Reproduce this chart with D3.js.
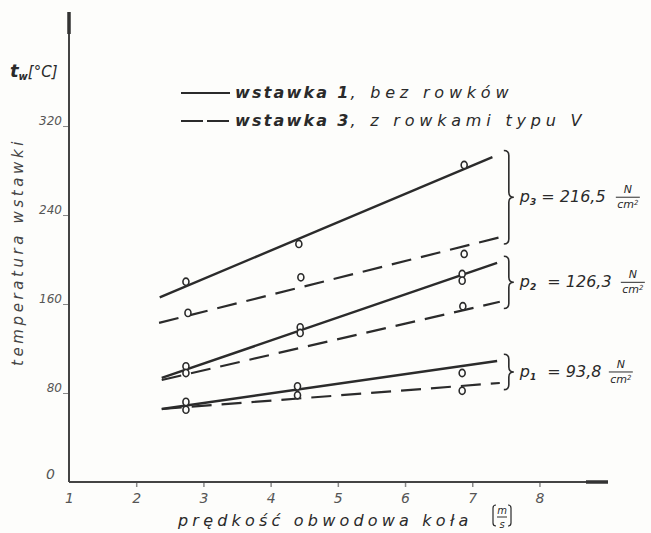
<!DOCTYPE html>
<meta charset="utf-8">
<head>
    <script src="https://d3js.org/d3.v7.min.js"></script>
    <style>
        body { margin: 0; background: #fdfdfb; }
        text { font-family: "DejaVu Sans", sans-serif; font-style: italic; fill: #2a2a2a; }
        .tick text { fill: #555; }
    </style>
</head>
<body>
<div id="chart"></div>
<script>
    // tick values
    var xTicks = [1, 2, 3, 4, 5, 6, 7, 8];
    var yTicks = [0, 80, 160, 240, 320];

    // fitted lines: [start speed, start temp, end speed, end temp]
    var p3Solid = [2.35, 166, 7.30, 292];
    var p3Dashed = [2.34, 143, 7.41, 220];
    var p2Solid = [2.38, 93.5, 7.37, 197];
    var p2Dashed = [2.38, 91.7, 7.41, 162];
    var p1Solid = [2.38, 65.6, 7.37, 108.8];
    var p1Dashed = [2.38, 65.6, 7.41, 89];

    // measured points [speed, temp]
    var p3SolidPts = [[2.74, 180], [4.42, 214], [6.88, 285]];
    var p3DashedPts = [[2.77, 152], [4.45, 184], [6.88, 205]];
    var p2SolidPts = [[2.74, 104], [4.44, 139], [6.85, 187]];
    var p2DashedPts = [[2.74, 98], [4.44, 134], [6.85, 181], [6.86, 158]];
    var p1SolidPts = [[2.74, 72], [4.40, 86], [6.85, 98]];
    var p1DashedPts = [[2.74, 65], [4.40, 78], [6.85, 82]];

    var groups = [
        {idx: "3", value: "216,5", solid: p3Solid, dashed: p3Dashed, pts: p3SolidPts.concat(p3DashedPts)},
        {idx: "2", value: "126,3", solid: p2Solid, dashed: p2Dashed, pts: p2SolidPts.concat(p2DashedPts)},
        {idx: "1", value: "93,8", solid: p1Solid, dashed: p1Dashed, pts: p1SolidPts.concat(p1DashedPts)}
    ];

    var legendLabels = ["wstawka 1", "wstawka 3"];
    var legendRest = [", bez rowków", ", z rowkami typu V"];

    var margin = {top: 12, left: 69},
        width = 651, height = 533,
        plotW = 539, plotH = 470;

    var svg = d3.select("#chart").append("svg")
        .attr("width", width)
        .attr("height", height);

    var g = svg.append("g")
        .attr("transform", "translate(" + margin.left + "," + margin.top + ")");

    var x = d3.scaleLinear().domain([1, 9.02]).range([0, plotW]);
    var y = d3.scaleLinear().domain([0, 422.5]).range([plotH, 0]);

    var ink = "#2b2b2b";

    // x axis
    var xAxis = g.append("g")
        .attr("transform", "translate(0," + plotH + ")")
        .call(d3.axisBottom(x).tickValues(xTicks).tickSize(5).tickPadding(6).tickFormat(d3.format("d")));
    xAxis.select(".domain").remove();
    xAxis.selectAll(".tick line").attr("stroke", "#888").attr("stroke-width", 1.5);
    xAxis.selectAll(".tick text").style("font-size", "14px");
    xAxis.selectAll(".tick").filter(function(d) { return d === 1; }).select("line").remove();

    g.append("line")
        .attr("x1", 0).attr("x2", plotW)
        .attr("y1", plotH).attr("y2", plotH)
        .attr("stroke", "#444").attr("stroke-width", 2);
    g.append("line")
        .attr("x1", plotW - 22).attr("x2", plotW)
        .attr("y1", plotH).attr("y2", plotH)
        .attr("stroke", "#333").attr("stroke-width", 3.5);

    // y axis
    var yAxis = g.append("g")
        .call(d3.axisLeft(y).tickValues(yTicks).tickSize(6).tickPadding(1));
    yAxis.select(".domain").remove();
    yAxis.selectAll(".tick line").attr("stroke", "#888").attr("stroke-width", 1);
    yAxis.selectAll(".tick text")
        .attr("dy", "-0.15em")
        .style("font-size", "12px");
    yAxis.selectAll(".tick").filter(function(d) { return d === 0; }).select("line").remove();
    yAxis.selectAll(".tick").filter(function(d) { return d === 0; }).select("text")
        .attr("x", -14).attr("dy", "-0.25em").style("font-size", "14px");

    g.append("line")
        .attr("x1", 0).attr("x2", 0)
        .attr("y1", plotH).attr("y2", 0)
        .attr("stroke", "#444").attr("stroke-width", 2);
    g.append("line")
        .attr("x1", 0).attr("x2", 0)
        .attr("y1", 0).attr("y2", 22)
        .attr("stroke", "#333").attr("stroke-width", 3.5);

    // axis titles
    var tw = svg.append("text")
        .attr("x", 10).attr("y", 77)
        .style("font-size", "15px");
    tw.append("tspan").text("t").style("font-weight", "bold").style("font-size", "18px");
    tw.append("tspan").text("w").attr("dy", 3).style("font-size", "10px").style("font-weight", "bold");
    tw.append("tspan").text("[°C]").attr("dy", -3);

    svg.append("text")
        .attr("transform", "translate(23,252) rotate(-90)")
        .attr("text-anchor", "middle")
        .style("font-size", "15px")
        .style("letter-spacing", "3.6px")
        .style("fill", "#444")
        .text("temperatura  wstawki");

    svg.append("text")
        .attr("x", 178).attr("y", 526)
        .style("font-size", "16px")
        .style("letter-spacing", "4.2px")
        .text("prędkość obwodowa koła");

    // unit fraction [m/s]
    var ux = 502;
    svg.append("text").attr("x", ux).attr("y", 514).attr("text-anchor", "middle")
        .style("font-size", "10px").text("m");
    svg.append("text").attr("x", ux).attr("y", 528).attr("text-anchor", "middle")
        .style("font-size", "10px").text("s");
    svg.append("line").attr("x1", ux - 5).attr("x2", ux + 5).attr("y1", 517).attr("y2", 517)
        .attr("stroke", ink).attr("stroke-width", 1);
    svg.append("path").attr("d", "M" + (ux - 6) + ",505 q-3,0 -3,3 v15 q0,3 3,3")
        .attr("fill", "none").attr("stroke", ink).attr("stroke-width", 1.2);
    svg.append("path").attr("d", "M" + (ux + 6) + ",505 q3,0 3,3 v15 q0,3 -3,3")
        .attr("fill", "none").attr("stroke", ink).attr("stroke-width", 1.2);

    // legend
    var legend = svg.append("g");
    legendLabels.forEach(function(lbl, i) {
        var ly = 93 + i * 28;
        legend.append("line")
            .attr("x1", 181).attr("x2", 230)
            .attr("y1", ly).attr("y2", ly)
            .attr("stroke", ink).attr("stroke-width", 2)
            .attr("stroke-dasharray", i === 0 ? null : "22,4");
        var t = legend.append("text")
            .attr("x", 235).attr("y", ly + 5)
            .style("font-size", "16px")
            .style("letter-spacing", "2.2px");
        t.append("tspan").text(lbl).style("font-weight", "bold");
        t.append("tspan").text(legendRest[i]).style("letter-spacing", i === 0 ? "4.8px" : "4.8px");
    });

    // fitted lines
    var line = d3.line().x(function(d) { return x(d[0]); }).y(function(d) { return y(d[1]); });

    groups.forEach(function(gr) {
        g.append("path")
            .datum([[gr.solid[0], gr.solid[1]], [gr.solid[2], gr.solid[3]]])
            .attr("d", line)
            .attr("fill", "none").attr("stroke", ink).attr("stroke-width", 2.4);
        g.append("path")
            .datum([[gr.dashed[0], gr.dashed[1]], [gr.dashed[2], gr.dashed[3]]])
            .attr("d", line)
            .attr("fill", "none").attr("stroke", ink).attr("stroke-width", 2.2)
            .attr("stroke-dasharray", "20,10");

        g.selectAll(null)
            .data(gr.pts)
            .enter().append("ellipse")
            .attr("cx", function(d) { return x(d[0]); })
            .attr("cy", function(d) { return y(d[1]); })
            .attr("rx", 3).attr("ry", 3.6)
            .attr("fill", "#fdfdfb")
            .attr("stroke", ink).attr("stroke-width", 1.6);

        // brace
        var top = y(Math.max(gr.solid[3], gr.dashed[3]) + 6),
            bot = y(Math.min(gr.solid[3], gr.dashed[3]) - 6),
            mid = (top + bot) / 2,
            bx = x(7.47);
        g.append("path")
            .attr("d", "M" + bx + "," + top + " q5,0 5,5 V" + (mid - 5) + " q0,5 5,5 q-5,0 -5,5 V" + (bot - 5) + " q0,5 -5,5")
            .attr("fill", "none").attr("stroke", ink).attr("stroke-width", 1.6);

        // pressure label
        var lx = bx + 16 + margin.left, ly = mid + margin.top + 5;
        var pl = svg.append("text").attr("x", lx).attr("y", ly).style("font-size", "16px");
        pl.append("tspan").text("p");
        pl.append("tspan").text(gr.idx).attr("dy", 3).style("font-size", "9px").style("font-weight", "bold");
        pl.append("tspan").text(" = " + gr.value).attr("dy", -3).attr("dx", gr.idx === "3" ? 0 : 6);
        var fx = lx + (gr.idx === "3" ? 108 : gr.idx === "2" ? 113 : 101);
        svg.append("text").attr("x", fx).attr("y", ly - 9).attr("text-anchor", "middle")
            .style("font-size", "11px").text("N");
        svg.append("line").attr("x1", fx - 12).attr("x2", fx + 12).attr("y1", ly - 5).attr("y2", ly - 5)
            .attr("stroke", ink).attr("stroke-width", 1);
        var cm = svg.append("text").attr("x", fx).attr("y", ly + 6).attr("text-anchor", "middle")
            .style("font-size", "11px");
        cm.append("tspan").text("cm");
        cm.append("tspan").text("2").attr("dy", -3).style("font-size", "7px");
    });
</script>
</body>
